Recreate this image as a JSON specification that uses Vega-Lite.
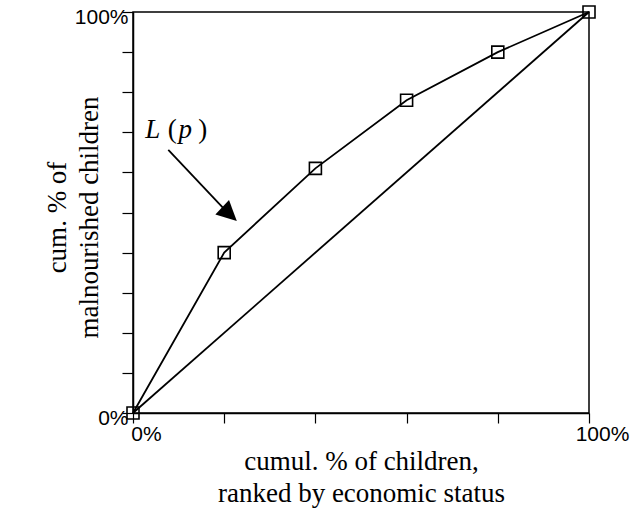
{
  "$schema": "https://vega.github.io/schema/vega-lite/v6.json",
  "width": 456,
  "height": 401,
  "autosize": {"type": "none"},
  "padding": {"left": 133, "top": 12, "right": 41, "bottom": 95},
  "background": "white",
  "config": {
    "view": {"stroke": "black", "strokeWidth": 1.5},
    "axis": {
      "domainColor": "black",
      "domainWidth": 1.5,
      "tickColor": "black",
      "tickWidth": 1.2,
      "grid": false,
      "labelFont": "Liberation Sans",
      "labelFontSize": 21,
      "labelColor": "black",
      "labelFlush": false,
      "labelOverlap": false,
      "titleFont": "Liberation Serif",
      "titleFontSize": 27,
      "titleFontWeight": "normal",
      "titleColor": "black",
      "titleLineHeight": 32
    }
  },
  "datasets": {
    "lorenz": [
      {"p": 0, "L": 0},
      {"p": 20, "L": 40},
      {"p": 40, "L": 61},
      {"p": 60, "L": 78},
      {"p": 80, "L": 90},
      {"p": 100, "L": 100}
    ],
    "equality": [
      {"p": 0, "L": 0},
      {"p": 100, "L": 100}
    ],
    "arrow": [{"x": 7.74, "y": 65.6, "x2": 19.96, "y2": 50.9}],
    "head": [{"x": 21.16, "y": 49.6}],
    "label": [
      {"x": 2.7, "y": 68.6, "t": "L", "italic": true},
      {"x": 7.6, "y": 68.6, "t": "(", "italic": false},
      {"x": 10.0, "y": 68.6, "t": "p", "italic": true},
      {"x": 14.3, "y": 68.6, "t": ")", "italic": false}
    ]
  },
  "layer": [
    {
      "data": {"name": "equality"},
      "mark": {"type": "line", "color": "black", "strokeWidth": 1.8},
      "encoding": {
        "x": {
          "field": "p", "type": "quantitative",
          "scale": {"domain": [0, 100], "nice": false, "zero": false},
          "axis": {
            "orient": "bottom",
            "values": [0, 20, 40, 60, 80, 100],
            "tickSize": 10,
            "labelExpr": "datum.value == 0 || datum.value == 100 ? datum.value + '%' : ''",
            "labelOffset": 13,
            "labelBaseline": "alphabetic",
            "labelPadding": 17,
            "title": ["cumul. % of children,", "ranked by economic status"],
            "titleBaseline": "alphabetic",
            "titleAlign": "center",
            "titleX": 228,
            "titleY": 56
          }
        },
        "y": {
          "field": "L", "type": "quantitative",
          "scale": {"domain": [0, 100], "nice": false, "zero": false},
          "axis": {
            "orient": "left",
            "values": [0, 10, 20, 30, 40, 50, 60, 70, 80, 90, 100],
            "tickSize": 11,
            "labelExpr": "datum.value == 0 || datum.value == 100 ? datum.value + '%' : ''",
            "labelOffset": 5,
            "labelBaseline": "middle",
            "labelPadding": -6,
            "title": ["cum. % of", "malnourished children"],
            "titleAngle": -90,
            "titleBaseline": "alphabetic",
            "titleAlign": "center",
            "titleX": -68,
            "titleY": 205
          }
        }
      }
    },
    {
      "data": {"name": "lorenz"},
      "mark": {"type": "line", "color": "black", "strokeWidth": 1.8},
      "encoding": {
        "x": {"field": "p", "type": "quantitative"},
        "y": {"field": "L", "type": "quantitative"}
      }
    },
    {
      "data": {"name": "lorenz"},
      "mark": {"type": "point", "shape": "square", "size": 144, "filled": false, "stroke": "black", "strokeWidth": 1.6, "opacity": 1},
      "encoding": {
        "x": {"field": "p", "type": "quantitative"},
        "y": {"field": "L", "type": "quantitative"}
      }
    },
    {
      "data": {"name": "arrow"},
      "mark": {"type": "rule", "color": "black", "strokeWidth": 1.8},
      "encoding": {
        "x": {"field": "x", "type": "quantitative"},
        "y": {"field": "y", "type": "quantitative"},
        "x2": {"field": "x2"},
        "y2": {"field": "y2"}
      }
    },
    {
      "data": {"name": "head"},
      "mark": {"type": "point", "shape": "M0,-1L1,1L-1,1Z", "size": 400, "filled": true, "color": "black", "opacity": 1, "angle": 133},
      "encoding": {
        "x": {"field": "x", "type": "quantitative"},
        "y": {"field": "y", "type": "quantitative"}
      }
    },
    {
      "data": {"name": "label"},
      "transform": [{"filter": "datum.italic"}],
      "mark": {"type": "text", "font": "Liberation Serif", "fontSize": 27, "fontStyle": "italic", "align": "left", "baseline": "alphabetic", "color": "black"},
      "encoding": {
        "x": {"field": "x", "type": "quantitative"},
        "y": {"field": "y", "type": "quantitative"},
        "text": {"field": "t"}
      }
    },
    {
      "data": {"name": "label"},
      "transform": [{"filter": "!datum.italic"}],
      "mark": {"type": "text", "font": "Liberation Serif", "fontSize": 27, "align": "left", "baseline": "alphabetic", "color": "black"},
      "encoding": {
        "x": {"field": "x", "type": "quantitative"},
        "y": {"field": "y", "type": "quantitative"},
        "text": {"field": "t"}
      }
    }
  ]
}
